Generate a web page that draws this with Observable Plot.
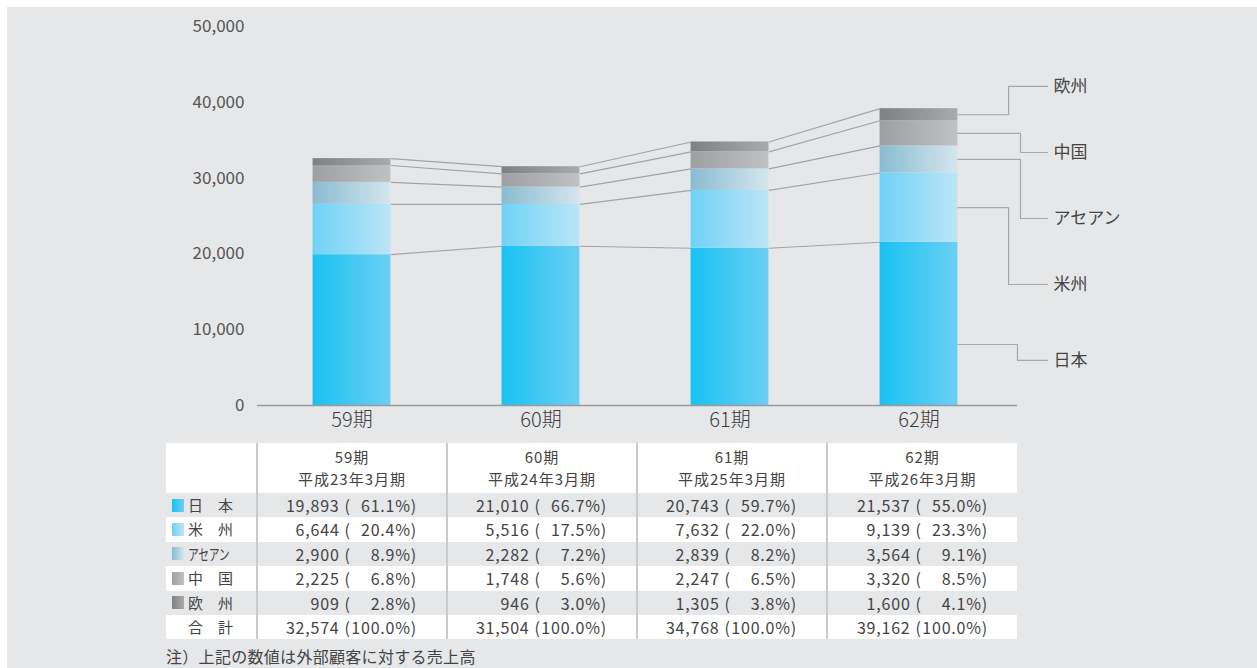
<!DOCTYPE html>
<html><head><meta charset="utf-8">
<script src="https://cdn.jsdelivr.net/npm/d3@7"></script>
<script src="https://cdn.jsdelivr.net/npm/@observablehq/plot@0.6"></script>
<style>
body{margin:0;background:#fff;font-family:"Noto Sans CJK JP","Noto Sans",sans-serif;color:#444;}
#bg{position:absolute;left:7px;top:7px;width:1250px;height:661px;background:#e6e7e9;overflow:hidden;}
#chart{position:absolute;left:0;top:0;}
#chart svg{overflow:visible;}
#tbl{position:absolute;left:159px;top:436px;width:851px;font-size:15.5px;color:#444;}
.row{display:flex;height:24.4px;line-height:24.4px;}
.row.head{height:50px;line-height:22px;background:#fff;}
.row.white{background:#fff;}
.row.gray{background:#e6e7e9;}
.lab{width:90px;box-sizing:border-box;padding-left:6px;display:flex;align-items:center;white-space:nowrap;font-size:15px;}
.sep{width:2px;background:#c9cacc;}
.cell{width:188px;box-sizing:border-box;display:flex;justify-content:flex-end;align-items:center;padding-right:29px;white-space:nowrap;font-size:16px;letter-spacing:0.8px;}
.cell.last{width:189px;}
.head .cell{justify-content:center;flex-direction:column;padding-right:0;text-align:center;font-size:15px;letter-spacing:1px;}
.head .cell div{height:22px;line-height:22px;}
.icon{display:inline-block;width:12px;height:13px;margin-right:4px;}
.pct{display:inline-block;width:60px;text-align:right;}
.par{display:inline-block;margin-left:5px;}
.narrow{display:inline-block;transform:scaleX(0.72);transform-origin:left center;letter-spacing:-0.5px;}
#note{position:absolute;left:159px;top:637px;font-size:16px;letter-spacing:0.3px;color:#444;}
</style>
</head><body>
<div id="bg"><div id="chart"></div><div id="tbl"></div><div id="note"></div></div>
<script>
// ---- data ----
const periods = ["59期", "60期", "61期", "62期"];
const periodSub = ["平成23年3月期", "平成24年3月期", "平成25年3月期", "平成26年3月期"];
const regions = ["日本", "米州", "アセアン", "中国", "欧州"];
const regionTableLabels = ["日　本", "米　州", "アセアン", "中　国", "欧　州"];
const totalLabel = "合　計";
const japan = [19893, 21010, 20743, 21537];
const americas = [6644, 5516, 7632, 9139];
const asean = [2900, 2282, 2839, 3564];
const china = [2225, 1748, 2247, 3320];
const europe = [909, 946, 1305, 1600];
const totals = [32574, 31504, 34768, 39162];
const japanPct = [61.1, 66.7, 59.7, 55.0];
const americasPct = [20.4, 17.5, 22.0, 23.3];
const aseanPct = [8.9, 7.2, 8.2, 9.1];
const chinaPct = [6.8, 5.6, 6.5, 8.5];
const europePct = [2.8, 3.0, 3.8, 4.1];
const totalPct = [100.0, 100.0, 100.0, 100.0];
const yTicks = [0, 10000, 20000, 30000, 40000, 50000];
const noteText = "注）上記の数値は外部顧客に対する売上高";

// ---- styles / layout ----
const gradColors = [["#18c2f2", "#6ccff4"], ["#6ed2f6", "#bce5f8"], ["#8abbd1", "#d4e6ee"], ["#9e9fa3", "#c0c1c4"], ["#7f8084", "#a9aaad"]];
const barHalf = 0.206;
const leaderElbowX = [4.021, 3.974, 4.037, 4.037, 3.974];
const leaderEndX = 4.18;
const labelX = 4.212;
const labelY = [5950, 15960, 24670, 33380, 42090];
const japanLeaderAnchor = 8050;

const values = [japan, americas, asean, china, europe];
const pcts = [japanPct, americasPct, aseanPct, chinaPct, europePct];

// stacking
const segs = [];
const tops = regions.map(() => []);
periods.forEach((p, i) => {
  let c = 0;
  regions.forEach((r, k) => {
    const v = values[k][i];
    segs.push({i, k, y1: c, y2: c + v});
    c += v;
    tops[k][i] = c;
  });
});
const links = [];
regions.forEach((r, k) => {
  for (let i = 0; i < periods.length - 1; i++) {
    links.push({x1: i + 0.5 + barHalf, y1: tops[k][i], x2: i + 1.5 - barHalf, y2: tops[k][i + 1]});
  }
});
const last = periods.length - 1;
const leaders = [];
regions.forEach((r, k) => {
  const lo = k === 0 ? 0 : tops[k - 1][last];
  const anchor = k === 0 ? japanLeaderAnchor : (lo + tops[k][last]) / 2;
  leaders.push({k, x: last + 0.5 + barHalf, y: anchor});
  leaders.push({k, x: leaderElbowX[k], y: anchor});
  leaders.push({k, x: leaderElbowX[k], y: labelY[k]});
  leaders.push({k, x: leaderEndX, y: labelY[k]});
});

const defsMark = () => {
  const d = d3.create("svg:defs");
  gradColors.forEach((c, k) => {
    const lg = d.append("linearGradient").attr("id", "grad" + k).attr("x1", 0).attr("x2", 1).attr("y1", 0).attr("y2", 0);
    lg.append("stop").attr("offset", 0).attr("stop-color", c[0]);
    lg.append("stop").attr("offset", 1).attr("stop-color", c[1]);
  });
  return d.node();
};

const plot = Plot.plot({
  width: 1249, height: 430,
  marginLeft: 250, marginRight: 243, marginTop: 19, marginBottom: 32,
  style: {background: "transparent", fontFamily: "'Noto Sans CJK JP','Noto Sans',sans-serif", color: "#555", overflow: "visible"},
  x: {domain: [0, 4], axis: null},
  y: {domain: [0, 50000], axis: null},
  marks: [
    defsMark,
    Plot.axisY({ticks: yTicks, tickSize: 0, tickPadding: 13, fontSize: 17, tickFormat: d3.format(","), label: null}),
    ...regions.map((r, k) => Plot.rect(segs.filter(s => s.k === k), {
      x1: s => s.i + 0.5 - barHalf, x2: s => s.i + 0.5 + barHalf, y1: "y1", y2: "y2", fill: "url(#grad" + k + ")"
    })),
    Plot.link(links, {x1: "x1", y1: "y1", x2: "x2", y2: "y2", stroke: "#a3a3a3", strokeWidth: 1.2}),
    Plot.line(leaders, {x: "x", y: "y", z: "k", stroke: "#a8a8a8", strokeWidth: 1.2}),
    Plot.ruleY([0], {x1: 0, x2: 4.021, stroke: "#9a9a9a", strokeWidth: 1.5}),
    Plot.text(periods, {x: (d, i) => i + 0.5, y: () => 0, dy: 15, text: d => d, fontSize: 20, fill: "#3c3c3c", fontWeight: 300}),
    Plot.text(regions, {x: () => labelX, y: (d, i) => labelY[i], text: d => d, textAnchor: "start", fontSize: 17, fill: "#444"})
  ]
});
document.getElementById("chart").appendChild(plot);

// ---- table ----
const fmt = d3.format(",");
const tbl = document.getElementById("tbl");
let html = '<div class="row head"><div class="lab"></div>';
periods.forEach((p, i) => {
  html += '<div class="sep"></div><div class="cell' + (i === last ? ' last' : '') + '"><div>' + p + '</div><div>' + periodSub[i] + '</div></div>';
});
html += '</div>';
const rowDefs = regions.map((r, k) => ({label: regionTableLabels[k], vals: values[k], pct: pcts[k], k}));
rowDefs.push({label: totalLabel, vals: totals, pct: totalPct, k: -1});
rowDefs.forEach((rd, j) => {
  html += '<div class="row ' + (j % 2 === 0 ? 'gray' : 'white') + '"><div class="lab">';
  const bg = rd.k >= 0 ? 'background:linear-gradient(to right,' + gradColors[rd.k][0] + ',' + gradColors[rd.k][1] + ')' : 'background:transparent';
  html += '<span class="icon" style="' + bg + '"></span>';
  html += rd.k === 2 ? '<span class="narrow">' + rd.label + '</span>' : '<span>' + rd.label + '</span>';
  html += '</div>';
  periods.forEach((p, i) => {
    html += '<div class="sep"></div><div class="cell' + (i === last ? ' last' : '') + '"><span>' + fmt(rd.vals[i]) + '</span><span class="par">(</span><span class="pct">' + rd.pct[i].toFixed(1) + '%</span><span>)</span></div>';
  });
  html += '</div>';
});
tbl.innerHTML = html;
document.getElementById("note").textContent = noteText;
</script>
</body></html>
